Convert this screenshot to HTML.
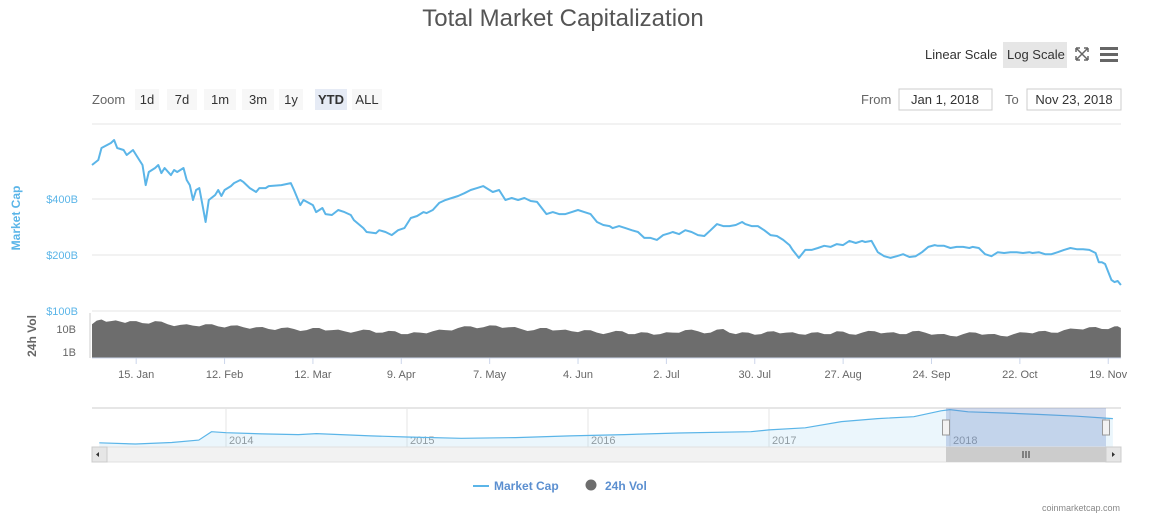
<!DOCTYPE html>
<html><head><meta charset="utf-8"><style>
body{margin:0;background:#fff;font-family:"Liberation Sans",sans-serif;}
svg{display:block}
</style></head><body>
<svg id="c" width="1153" height="528" xmlns="http://www.w3.org/2000/svg" font-family="Liberation Sans, sans-serif">
<text x="563" y="26" text-anchor="middle" font-size="24" fill="#555">Total Market Capitalization</text>
<text x="925" y="59" font-size="13" fill="#333">Linear Scale</text>
<rect x="1003" y="42" width="64" height="26" fill="#e6e6e6"/>
<text x="1007" y="59" font-size="13" fill="#333">Log Scale</text>
<g stroke="#666" stroke-width="1.5" fill="none"><path d="M1076 48l12 12M1088 48l-12 12M1076 48h4M1076 48v4M1088 48h-4M1088 48v4M1076 60h4M1076 60v-4M1088 60h-4M1088 60v-4"/></g>
<g fill="#666"><rect x="1100" y="47" width="18" height="3"/><rect x="1100" y="53" width="18" height="3"/><rect x="1100" y="59" width="18" height="3"/></g>
<text x="92" y="104" font-size="13" fill="#666">Zoom</text>
<g id="zoombtns"></g>
<text x="861" y="104" font-size="13" fill="#666">From</text>
<rect x="899" y="89" width="93" height="21" fill="#fff" stroke="#ccc"/>
<text x="945" y="104" font-size="13" fill="#333" text-anchor="middle">Jan 1, 2018</text>
<text x="1005" y="104" font-size="13" fill="#666">To</text>
<rect x="1027" y="89" width="94" height="21" fill="#fff" stroke="#ccc"/>
<text x="1074" y="104" font-size="13" fill="#333" text-anchor="middle">Nov 23, 2018</text>
<g id="grid"></g>
<text x="0" y="0" transform="translate(20,218) rotate(-90)" text-anchor="middle" font-size="12" font-weight="bold" fill="#5bb5e8">Market Cap</text>
<text x="0" y="0" transform="translate(36,336) rotate(-90)" text-anchor="middle" font-size="12" font-weight="bold" fill="#666">24h Vol</text>
<g id="vol"></g><g id="cap"></g><g id="xax"></g><g id="nav"></g>
<g>
<line x1="473" y1="486" x2="489" y2="486" stroke="#5bb5e8" stroke-width="2"/>
<text x="494" y="490" font-size="12" font-weight="bold" fill="#5b8fd0">Market Cap</text>
<circle cx="591" cy="485" r="5.5" fill="#6d6d6d"/>
<text x="605" y="490" font-size="12" font-weight="bold" fill="#5b8fd0">24h Vol</text>
</g>
<text x="1120" y="511" text-anchor="end" font-size="9" fill="#888">coinmarketcap.com</text>
</svg>
<script>
const capDays=[0,2,3,6,7,8,10,11,13,15,16,17,18,20,21,22,23,25,26,27,29,30,31,32,33,34,35,36,37,39,40,41,42,44,45,47,48,50,52,53,55,56,60,63,64,66,67,70,71,73,74,76,78,80,82,83,86,87,90,91,93,95,97,99,101,103,105,106,108,110,112,114,116,118,120,122,124,125,127,129,131,133,135,137,139,141,143,144,146,148,150,152,154,156,158,160,162,164,165,167,169,171,173,175,177,179,181,183,184,186,188,190,192,194,196,198,200,202,204,206,207,209,211,213,215,217,219,221,222,224,226,228,230,232,234,236,238,240,242,244,245,247,249,251,253,255,257,259,261,263,265,267,268,270,272,274,276,278,279,281,283,285,287,289,291,293,295,297,298,300,302,304,306,308,310,312,314,316,318,319,320,321,323,324,325,326];
const capValues=[609,648,752,800,830,752,734,690,734,648,609,475,559,587,609,551,587,538,573,559,587,506,475,395,447,458,371,301,395,420,447,415,447,469,487,506,493,458,436,458,458,469,475,487,447,371,395,371,340,358,332,328,349,340,328,308,279,266,262,272,266,256,272,279,316,324,340,336,349,381,395,405,415,430,447,458,469,458,436,447,395,405,395,405,390,386,349,332,340,332,332,340,349,340,332,301,290,286,279,286,279,272,266,247,247,241,256,262,266,259,272,266,256,253,272,293,286,286,290,301,293,286,286,272,256,253,241,226,213,193,213,213,218,224,221,229,226,238,232,238,235,238,207,197,193,197,202,195,197,207,221,226,224,224,218,221,221,218,221,218,202,197,207,205,207,207,205,207,205,207,202,202,207,213,218,215,215,213,205,183,183,179,147,143,145,138];
const volWeeks=[0,3,6,9,12,16,20,24,28,32,36,40,44,48,52,56,60,64,68,72,76,80,84,88,92,96,100,104,108,112,116,120,124,128,132,136,140,144,148,152,156,160,164,168,172,176,180,184,188,192,196,200,204,208,212,216,220,224,228,232,236,240,244,248,252,256,260,264,268,272,276,280,284,288,292,296,300,304,308,312,316,320,324,326];
const volValues=[16,26,22,21,22,18,22,16,15,14,16,13,14,12,12,10,11,10,9,11,9,8,8,9,7,8,6,7,8,9,11,13,12,14,12,10,9,11,9,8,9,7,7,8,6,7,6,7,9,8,7,10,6,7,6,8,7,6,7,6,8,6,7,8,7,6,8,7,6,5,6,7,6,5,6,7,8,7,9,10,12,10,13,11];
const tickLabels=["15. Jan","12. Feb","12. Mar","9. Apr","7. May","4. Jun","2. Jul","30. Jul","27. Aug","24. Sep","22. Oct","19. Nov"];
const tickDays=[14,42,70,98,126,154,182,210,238,266,294,322];
const capTicks=[400,200,100];
const capTickLabels=["$400B","$200B","$100B"];
const volTicks=[10,1];
const volTickLabels=["10B","1B"];
const navYears=[2013.3,2013.5,2013.7,2013.85,2013.92,2014.0,2014.2,2014.4,2014.5,2014.8,2015.0,2015.3,2015.6,2015.9,2016.2,2016.5,2016.9,2017.0,2017.2,2017.4,2017.6,2017.8,2017.95,2018.0,2018.1,2018.3,2018.5,2018.7,2018.9];
const navCaps=[1.5,1.2,1.6,2.5,12,10,8,7,8.5,5.5,4.5,3.5,4.0,5.5,7,9.5,12,17,25,80,140,200,600,750,500,400,300,220,140];
const navYearLabels=["2014","2015","2016","2017","2018"];
const zoomLabels=["1d","7d","1m","3m","1y","YTD","ALL"];

const NS="http://www.w3.org/2000/svg";
function mk(t,a,p){const e=document.createElementNS(NS,t);for(const k in a)e.setAttribute(k,a[k]);p.appendChild(e);return e;}
const xS=d=>92+d*3.156;
const yS=v=>199-56*Math.log2(v/400);
const vS=v=>352-23*Math.log10(v);
const nxS=y=>226+(y-2014)*181;
const nyS=v=>445-12.3*Math.log10(v);

const zb=document.getElementById('zoombtns');
const zx=[135,167,204,242,279,315,352],zw=[24,30,32,32,24,32,30];
zoomLabels.forEach((l,i)=>{
 const r=mk('rect',{x:zx[i],y:89,width:zw[i],height:21,fill:i==5?'#e6ebf5':'#f7f7f7'},zb);
 
 
 const t=mk('text',{x:zx[i]+zw[i]/2,y:104,'text-anchor':'middle','font-size':13,fill:'#333','font-weight':i==5?'bold':'normal'},zb);t.textContent=l;
 
 
});

const g=document.getElementById('grid');
mk('line',{x1:92,x2:1121,y1:124,y2:124,stroke:'#e6e6e6'},g);
capTicks.forEach((v,i)=>{const y=yS(v);
 const l=mk('line',{x1:92,x2:1121,y1:y,y2:y,stroke:'#e6e6e6'},g);
 
 
 const t=mk('text',{x:78,y:y+4,'text-anchor':'end','font-size':11,fill:'#5bb5e8'},g);t.textContent=capTickLabels[i];
 
 
});
volTicks.forEach((v,i)=>{const t=mk('text',{x:76,y:vS(v)+4,'text-anchor':'end','font-size':11,fill:'#666'},g);t.textContent=volTickLabels[i];
 
 });
mk('line',{x1:90,x2:90,y1:313,y2:358,stroke:'#ccc'},g);

const vg=document.getElementById('vol');
let d='M'+xS(volWeeks[0])+' 358';
volWeeks.forEach((w,i)=>{d+=' L'+xS(w).toFixed(1)+' '+vS(volValues[i]).toFixed(1);if(i<volWeeks.length-1){const m=(w+volWeeks[i+1])/2;d+=' L'+xS(m).toFixed(1)+' '+(vS((volValues[i]+volValues[i+1])/2)+(i%2?1.5:-1)).toFixed(1);}});
d+=' L'+xS(volWeeks[volWeeks.length-1])+' 358 Z';
const va=mk('path',{d:d,fill:'#6d6d6d'},vg);



const cg=document.getElementById('cap');
const cp=mk('path',{d:capDays.map((dd,i)=>(i?'L':'M')+xS(dd).toFixed(1)+' '+yS(capValues[i]).toFixed(1)).join(' '),fill:'none',stroke:'#5bb5e8','stroke-width':2,'stroke-linejoin':'round'},cg);



const xg=document.getElementById('xax');
mk('line',{x1:92,x2:1121,y1:358,y2:358,stroke:'#ccd6eb'},xg);
tickDays.forEach((dd,i)=>{const x=xS(dd);
 mk('line',{x1:x,x2:x,y1:358,y2:364,stroke:'#ccd6eb'},xg);
 const t=mk('text',{x:x,y:378,'text-anchor':'middle','font-size':11,fill:'#666'},xg);t.textContent=tickLabels[i];
 
 
});

const ng=document.getElementById('nav');
mk('line',{x1:92,x2:1121,y1:408,y2:408,stroke:'#ccc'},ng);
navYearLabels.forEach((l,i)=>{const x=nxS(2014+i);
 mk('line',{x1:x,x2:x,y1:408,y2:447,stroke:'#e6e6e6'},ng);
 const t=mk('text',{x:x+3,y:444,'font-size':11,fill:'#999'},ng);t.textContent=l;
 
 
});
let nd=navYears.map((y,i)=>(i?'L':'M')+nxS(y).toFixed(1)+' '+nyS(navCaps[i]).toFixed(1)).join(' ');
const na=mk('path',{d:nd+' L'+nxS(navYears[navYears.length-1])+' 447 L'+nxS(navYears[0])+' 447 Z',fill:'#5bb5e8','fill-opacity':0.12},ng);


const nl=mk('path',{d:nd,fill:'none',stroke:'#5bb5e8','stroke-width':1.2},ng);


const sel=mk('rect',{x:946,y:408,width:160,height:39,fill:'#6685c2','fill-opacity':0.3},ng);


[946,1106].forEach(x=>{const h=mk('rect',{x:x-3.5,y:420,width:7,height:15,fill:'#f2f2f2',stroke:'#999'},ng);
 
 });
const sb=mk('rect',{x:92,y:447,width:1029,height:15,fill:'#f2f2f2',stroke:'#e0e0e0'},ng);


const th=mk('rect',{x:946,y:447,width:160,height:15,fill:'#cccccc'},ng);


mk('path',{d:'M1023 451v7M1026 451v7M1029 451v7',stroke:'#333'},ng);
[[92,'M99 452l-3 2.5 3 2.5z'],[1106,'M1112 452l3 2.5-3 2.5z']].forEach(a=>{const b=mk('rect',{x:a[0],y:447,width:15,height:15,fill:'#e6e6e6',stroke:'#ccc'},ng);
 
 
 mk('path',{d:a[1],fill:'#333'},ng);});
</script>
</body></html>
